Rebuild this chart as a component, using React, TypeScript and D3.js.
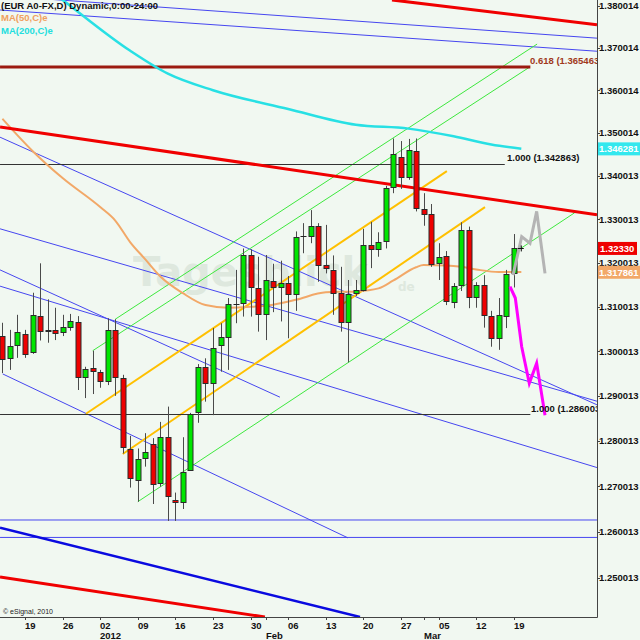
import React from "react";
import * as d3 from "d3";

// ---- Data (bar index 0 = Mon 19 Dec 2011, one bar per trading day) ----
const firstBar = -3;
const opens = [1.3035,1.2984,1.3015,1.3038,1.2998,1.3079,1.3047,1.3047,1.3043,1.3054,1.3066,1.2942,1.2962,1.2953,1.2933,1.3048,1.2939,1.2781,1.2714,1.2761,1.2793,1.2706,1.2809,1.2670,1.2665,1.2736,1.2864,1.2964,1.2929,1.3013,1.3033,1.3106,1.3108,1.3218,1.3142,1.3083,1.3159,1.3146,1.3154,1.3129,1.3262,1.3262,1.3285,1.3195,1.3184,1.3131,1.3065,1.3131,1.3138,1.3241,1.3232,1.3249,1.3374,1.3445,1.3397,1.3458,1.3324,1.3312,1.3199,1.3216,1.3112,1.3150,1.3275,1.3122,1.3150,1.3079,1.3030,1.3080,1.3176];
const highs = [1.3064,1.3048,1.3082,1.3048,1.3132,1.3199,1.3117,1.3098,1.3082,1.3084,1.3079,1.2965,1.3001,1.2958,1.3074,1.3072,1.2947,1.2811,1.2783,1.2817,1.2806,1.2842,1.2876,1.2686,1.2808,1.2862,1.2971,1.2984,1.3052,1.3063,1.3120,1.3184,1.3233,1.3231,1.3214,1.3218,1.3198,1.3205,1.3170,1.3272,1.3291,1.3321,1.3291,1.3287,1.3217,1.3191,1.3161,1.3161,1.3278,1.3294,1.3270,1.3377,1.3487,1.3481,1.3486,1.3487,1.3360,1.3335,1.3245,1.3227,1.3154,1.3293,1.3283,1.3156,1.3172,1.3091,1.3120,1.3184,1.3266];
const lows = [1.2951,1.2958,1.2985,1.2985,1.2994,1.3024,1.3019,1.3025,1.3034,1.3046,1.2913,1.2895,1.2904,1.2918,1.2924,1.2900,1.2772,1.2697,1.2666,1.2743,1.2661,1.2699,1.2624,1.2624,1.2650,1.2734,1.2840,1.2887,1.2857,1.2954,1.2958,1.3063,1.3078,1.3078,1.3044,1.3025,1.3088,1.3067,1.3029,1.3091,1.3222,1.3245,1.3157,1.3176,1.3082,1.3044,1.2975,1.3125,1.3135,1.3188,1.3214,1.3233,1.3360,1.3370,1.3391,1.3318,1.3285,1.3191,1.3161,1.3104,1.3097,1.3136,1.3097,1.3098,1.3053,1.3010,1.3003,1.3052,1.3144];
const closes = [1.2983,1.3011,1.3044,1.2994,1.3082,1.3046,1.3046,1.3042,1.3054,1.3068,1.2942,1.2959,1.2956,1.2934,1.3048,1.2941,1.2786,1.2717,1.2759,1.2775,1.2705,1.2809,1.2679,1.2665,1.2731,1.2860,1.2964,1.2929,1.3008,1.3031,1.3106,1.3106,1.3218,1.3144,1.3083,1.3160,1.3144,1.3154,1.3129,1.3259,1.3262,1.3285,1.3195,1.3188,1.3131,1.3065,1.3129,1.3138,1.3241,1.3231,1.3247,1.3373,1.3450,1.3398,1.3460,1.3327,1.3313,1.3197,1.3213,1.3113,1.3147,1.3275,1.3123,1.3150,1.3082,1.3030,1.3082,1.3174,1.3233];

const ma50Bars = [-3, 1, 5, 10, 12, 14, 16, 18, 21, 24, 27, 30, 33, 36, 40, 44, 47, 49, 52, 53, 56, 58, 60, 63, 66];
const ma50Values = [1.3533,1.3458,1.3395,1.3328,1.3297,1.3247,1.3208,1.3169,1.3131,1.3104,1.3098,1.3100,1.3105,1.3116,1.3133,1.3135,1.3142,1.3160,1.3190,1.3195,1.3194,1.3191,1.3185,1.3179,1.3179];
const ma200Bars = [2, 5, 14, 19, 25, 35, 44, 51, 57, 62, 66];
const ma200Values = [1.3855,1.3814,1.3693,1.3639,1.3600,1.3556,1.3519,1.3510,1.3492,1.3473,1.3463];

const dayTickBars = [0,5,10,15,20,25,30,35,40,45,50,55,60,65];
const dayTickLabels = ["19","26","02","09","16","23","30","06","13","20","27","05","12","19"];
const monthBars = [10, 32, 53];
const monthLabels = ["2012", "Feb", "Mar"];

const priceTicks = [1.250013,1.260013,1.270013,1.280013,1.290013,1.300013,1.310013,1.320013,1.330013,1.340013,1.350014,1.360014,1.370014,1.380014];
const priceTickLabels = ["1.250013","1.260013","1.270013","1.280013","1.290013","1.300013","1.310013","1.320013","1.330013","1.340013","1.350014","1.360014","1.370014","1.380014"];

// trend lines: [barA, priceA, barB, priceB]
const redLines = [[-3.32,1.3514,76.06,1.3310],[48.8,1.3814,76.06,1.3755],[-3.32,1.2502,31.9,1.2416]];
const blueThickLines = [[-3.32,1.2609,44.55,1.2416]];
const blueThinLines = [
  [-3.32,1.3824,76.06,1.3723],[-3.32,1.3790,76.06,1.3692],
  [-3.32,1.3490,76.06,1.2880],[-3.32,1.3278,76.06,1.2888],
  [-3.32,1.3184,33.9,1.2897],[-3.32,1.3147,76.06,1.2741],
  [-2.97,1.2949,42.95,1.2587],
  [-3.32,1.2626,76.06,1.2626],[-3.32,1.2588,76.06,1.2588]
];
const greenLines = [[12,1.3072,68.1,1.3709],[9,1.3001,67.15,1.3655],[15,1.2666,73.1,1.3315]];
const yellowLines = [[8.11,1.2860,56.1,1.3411],[13,1.2771,61.17,1.3328]];

// Fibonacci levels: [barFrom, barTo, price]
const fibBlack = [[-3.32,63.8,1.342863],[-3.32,67.2,1.286003]];
const fibBlackLabels = ["1.000 (1.342863)", "1.000 (1.286003)"];
const fibRed = [[-3.32,67.2,1.365463]];
const fibRedLabels = ["0.618 (1.365463)"];

// projections
const magentaBars = [64.5,65.2,66.05,67.06,68.04,69.15];
const magentaPrices = [1.3146,1.3120,1.3010,1.2928,1.2973,1.2857];
const grayBars = [64.9,66.05,67.15,68.04,69.15];
const grayPrices = [1.3172,1.3260,1.3245,1.3318,1.3176];

const lastPrice = 1.3233;
const lastPriceLabel = "1.32330";
const ma50Last = 1.317861;
const ma50LastLabel = "1.317861";
const ma200Last = 1.346281;
const ma200LastLabel = "1.346281";

const PLOT_R = 597;
const PLOT_B = 617;
const FONT = "'Liberation Sans', Arial, sans-serif";
const BG = "#f1f8f1";

export default function App() {
  const x = d3.scaleLinear().domain([0, 65]).range([25, 513.8]);
  const y = d3.scaleLog().domain([1.25, 1.38]).range([578, 5.8]);

  const seg = (l: number[], color: string, w: number, key: string) => (
    <line key={key} x1={x(l[0])} y1={y(l[1])} x2={x(l[2])} y2={y(l[3])} stroke={color} strokeWidth={w} />
  );

  const maLine = d3.line<number>().x((_, i) => 0).y(() => 0);
  const ma50Path = d3.line<number>()
    .x((_, i) => x(ma50Bars[i]))
    .y((d) => y(d))
    .curve(d3.curveMonotoneX)(ma50Values) || "";
  const ma200Path = d3.line<number>()
    .x((_, i) => x(ma200Bars[i]))
    .y((d) => y(d))
    .curve(d3.curveMonotoneX)(ma200Values) || "";
  const magentaPath = d3.line<number>().x((_, i) => x(magentaBars[i])).y((d) => y(d))(magentaPrices) || "";
  const grayPath = d3.line<number>().x((_, i) => x(grayBars[i])).y((d) => y(d))(grayPrices) || "";
  void maLine;

  const candles = opens.map((o, k) => {
    const bar = firstBar + k;
    const c = closes[k];
    const cx = Math.round(x(bar));
    const top = y(Math.max(o, c));
    const bot = y(Math.min(o, c));
    const doji = Math.abs(o - c) < 0.00005;
    return (
      <g key={"c" + k}>
        <line x1={cx + 0.5} x2={cx + 0.5} y1={y(highs[k])} y2={y(lows[k])} stroke="#4a4a4a" strokeWidth={1} />
        {doji ? (
          <line x1={cx - 2.5} x2={cx + 3.5} y1={Math.round(top) + 0.5} y2={Math.round(top) + 0.5} stroke="#222" strokeWidth={1} />
        ) : (
          <rect x={cx - 2} y={Math.round(top) + 0.5} width={5} height={Math.max(1, Math.round(bot) - Math.round(top))}
            fill={c > o ? "#00e600" : "#ee0000"} stroke="#2a2a2a" strokeWidth={1} />
        )}
      </g>
    );
  });

  const txt = { fontFamily: FONT, fontWeight: 700, fontSize: 9.5 } as const;

  return (
    <div style={{ position: "fixed", left: 0, top: 0, width: 640, height: 640 }}>
      <svg width={640} height={640} style={{ display: "block" }}>
        <defs>
          <clipPath id="plotClip">
            <rect x={0} y={0} width={PLOT_R} height={PLOT_B} />
          </clipPath>
        </defs>
        <rect x={0} y={0} width={640} height={640} fill={BG} />

        <g clipPath="url(#plotClip)">
          {/* watermark */}
          <text x={133} y={286} fontFamily="'DejaVu Sans', Verdana, sans-serif" fontWeight={700} fontSize={40}
            fill="#d6e2d6" opacity={0.7}>Tagesblick</text>
          <text x={398} y={291} fontFamily="'DejaVu Sans', Verdana, sans-serif" fontWeight={700} fontSize={12}
            fill="#d6e2d6" opacity={0.7}>de</text>

          {blueThinLines.map((l, i) => seg(l, "#4646f0", 1, "bt" + i))}
          {blueThickLines.map((l, i) => seg(l, "#0a0ae0", 2.5, "bk" + i))}
          {greenLines.map((l, i) => seg(l, "#3ee83e", 1, "g" + i))}
          {yellowLines.map((l, i) => seg(l, "#ffc000", 2, "y" + i))}

          {fibBlack.map((f, i) => (
            <g key={"fb" + i}>
              <line x1={x(f[0])} x2={x(f[1])} y1={Math.round(y(f[2])) + 0.5} y2={Math.round(y(f[2])) + 0.5} stroke="#333" strokeWidth={1} />
            </g>
          ))}
          {fibRed.map((f, i) => (
            <line key={"fr" + i} x1={x(f[0])} x2={x(f[1])} y1={y(f[2])} y2={y(f[2])} stroke="#9c1a10" strokeWidth={3} />
          ))}

          <path d={ma200Path} fill="none" stroke="#28e0e4" strokeWidth={2.5} />
          <path d={ma50Path} fill="none" stroke="#f2a868" strokeWidth={2} />

          {redLines.map((l, i) => seg(l, "#f00000", 3, "r" + i))}

          {candles}

          <path d={grayPath} fill="none" stroke="#b4b4b4" strokeWidth={3} />
          <path d={magentaPath} fill="none" stroke="#ff00ff" strokeWidth={3} />

          {/* last price cross */}
          <g stroke="#111" strokeWidth={1}>
            <line x1={x(65) + 4} x2={x(65) + 10} y1={Math.round(y(lastPrice)) + 0.5} y2={Math.round(y(lastPrice)) + 0.5} />
            <line x1={x(65) + 7.5} x2={x(65) + 7.5} y1={y(lastPrice) - 3} y2={y(lastPrice) + 3} />
          </g>

          {/* fib labels */}
          <text x={507} y={161} {...txt} fill="#111">{fibBlackLabels[0]}</text>
          <text x={531} y={412} {...txt} fill="#111">{fibBlackLabels[1]}</text>
          <text x={530} y={64} {...txt} fill="#a0381c">{fibRedLabels[0]}</text>

          <text x={3} y={614} fontFamily={FONT} fontSize={7} fill="#222">© eSignal, 2010</text>
        </g>

        {/* legend */}
        <text x={1} y={9} {...txt} fill="#111">(EUR A0-FX,D) Dynamic,0:00-24:00</text>
        <text x={1} y={21} {...txt} fill="#f0a060">MA(50,C)e</text>
        <text x={1} y={34} {...txt} fill="#22dede">MA(200,C)e</text>

        {/* axes frame */}
        <line x1={PLOT_R + 0.5} x2={PLOT_R + 0.5} y1={0} y2={PLOT_B + 0.5} stroke="#444" strokeWidth={1} />
        <line x1={0} x2={PLOT_R + 0.5} y1={PLOT_B + 0.5} y2={PLOT_B + 0.5} stroke="#444" strokeWidth={1} />

        {/* right axis */}
        {priceTicks.map((v, i) => (
          <g key={"pt" + i}>
            <line x1={PLOT_R} x2={PLOT_R + 3} y1={Math.round(y(v)) + 0.5} y2={Math.round(y(v)) + 0.5} stroke="#444" />
            <text x={599} y={y(v) + 3.5} {...txt} fill="#111">{priceTickLabels[i]}</text>
          </g>
        ))}
        {/* value tags */}
        <rect x={598} y={y(ma200Last) - 6.5} width={42} height={13} fill="#33e8ee" />
        <text x={599} y={y(ma200Last) + 3.5} {...txt} fill="#fff">{ma200LastLabel}</text>
        <rect x={598} y={y(lastPrice) - 6.5} width={39} height={13} fill="#ee0000" />
        <text x={600} y={y(lastPrice) + 3.5} {...txt} fill="#fff">{lastPriceLabel}</text>
        <rect x={598} y={y(ma50Last) - 6.5} width={42} height={13} fill="#f2a868" />
        <text x={599} y={y(ma50Last) + 3.5} {...txt} fill="#fff">{ma50LastLabel}</text>

        {/* bottom axis */}
        {dayTickBars.map((b, i) => (
          <g key={"dt" + i}>
            <line x1={Math.round(x(b)) + 0.5} x2={Math.round(x(b)) + 0.5} y1={PLOT_B} y2={PLOT_B + 3} stroke="#444" />
            <text x={Math.round(x(b))} y={629} {...txt} fill="#111">{dayTickLabels[i]}</text>
          </g>
        ))}
        {monthBars.map((b, i) => (
          <g key={"mt" + i}>
            <line x1={Math.round(x(b)) + 0.5} x2={Math.round(x(b)) + 0.5} y1={PLOT_B} y2={PLOT_B + 3} stroke="#444" />
            <text x={Math.round(x(b))} y={639} {...txt} fill="#111">{monthLabels[i]}</text>
          </g>
        ))}
      </svg>
    </div>
  );
}
